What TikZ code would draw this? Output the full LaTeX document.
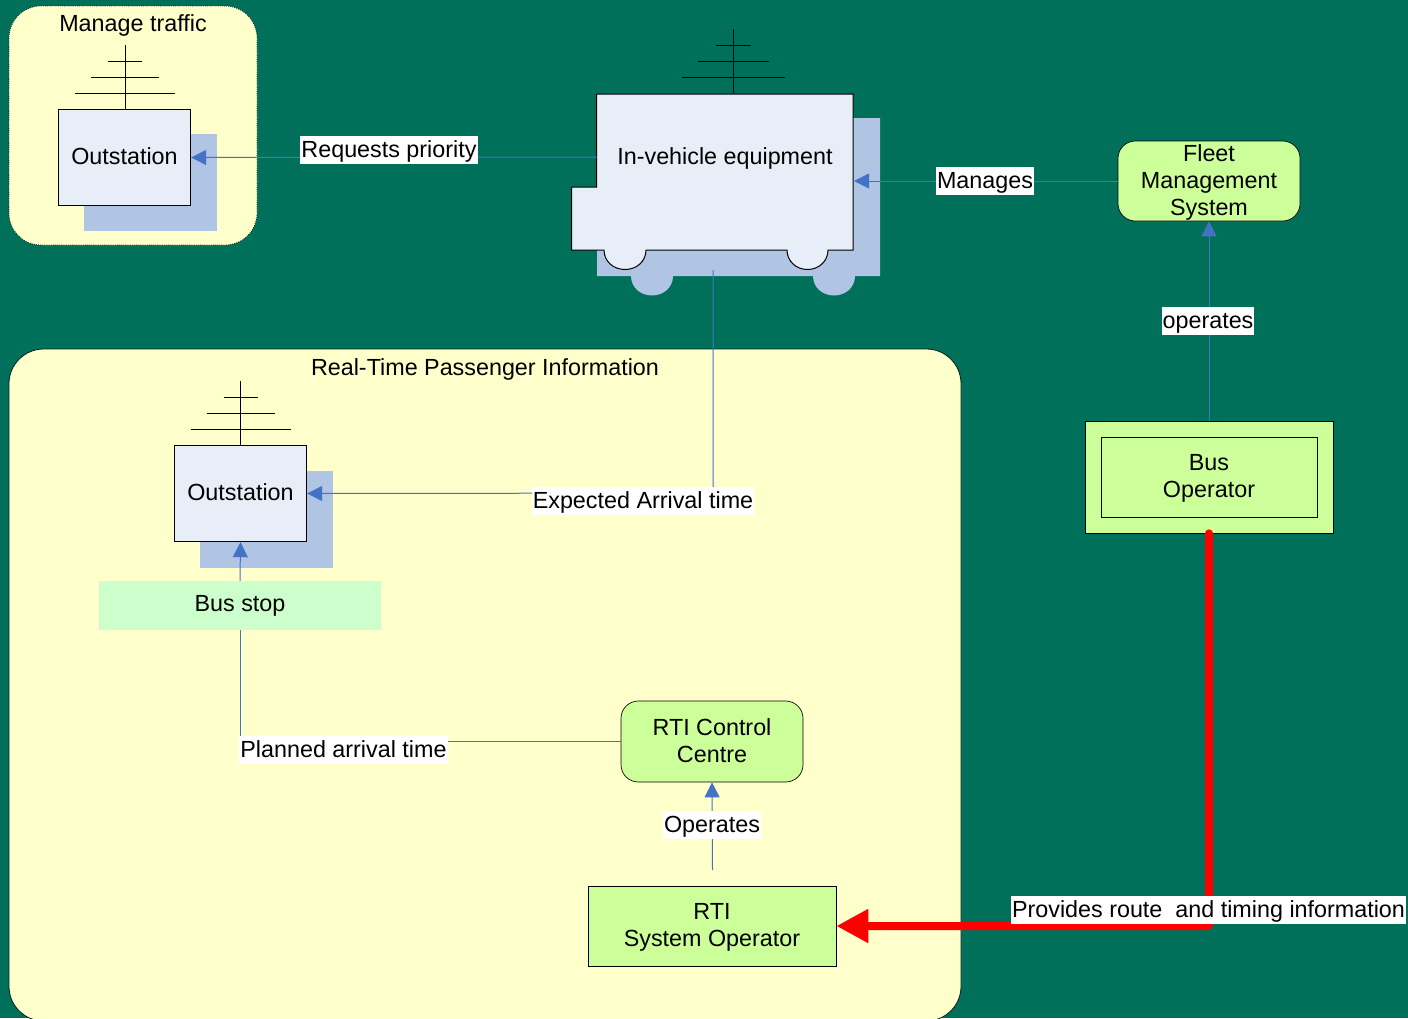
\documentclass[tikz,border=0pt]{standalone}
\usepackage{fontspec}
\setmainfont{Liberation Sans}
\usetikzlibrary{arrows.meta}

\definecolor{teal}{HTML}{00705A}
\definecolor{panelyellow}{HTML}{FFFFCC}
\definecolor{lime}{HTML}{CCFF99}
\definecolor{stopgreen}{HTML}{CCFFCC}
\definecolor{paleblue}{HTML}{E8EEF8}
\definecolor{shadowblue}{HTML}{B0C4E4}
\definecolor{linkblue}{HTML}{4472C4}

\newcommand{\antenna}[3]{%
    \draw[mast] (#1, #2) -- (#1, #2+64);
    \draw[mast] (#1-17*#3, #2+16) -- (#1+17*#3, #2+16);
    \draw[mast] (#1-34*#3, #2+32) -- (#1+34*#3, #2+32);
    \draw[mast] (#1-50*#3, #2+48) -- (#1+50*#3, #2+48);
}

\tikzset{
    txt/.style={font=\fontsize{17.5}{20.25}\selectfont, align=center, text=black, inner sep=0pt},
    panel/.style={draw=black!70!teal, line width=0.6pt, fill=panelyellow, inner sep=0pt},
    outstation/.style={txt, draw=black, line width=0.75pt, fill=paleblue, minimum width=99.25pt, minimum height=72.25pt, text depth=1.5pt},
    shadowbox/.style={fill=shadowblue, inner sep=0pt, minimum width=99.75pt, minimum height=72.75pt},
    limebox/.style={txt, draw=black, line width=0.5pt, fill=lime, text depth=1.5pt},
    mast/.style={draw=black, line width=0.75pt},
    link/.style={draw=linkblue, line width=0.75pt, -{Triangle[length=11.25pt, width=11.25pt]}},
    plain link/.style={draw=linkblue, line width=0.75pt},
    feed/.style={draw=red, line width=6pt, line cap=round, rounded corners=1.5pt, -{Triangle[length=24pt, width=24pt]}},
    tag/.style={txt, fill=white, inner xsep=0.75pt, inner ysep=2pt, text height=14pt, text depth=3pt},
}

\begin{document}
\begin{tikzpicture}[x=0.75pt, y=-0.75pt]
    \clip (0, 0) rectangle (1408, 1018);
    \fill[teal] (0, 0) rectangle (1408, 1018);

    % panels
    \node[panel, densely dotted, rounded corners=24pt, minimum width=186pt, minimum height=179.25pt] (traffic) at (133, 125.5) {};
    \node[panel, rounded corners=26pt, minimum width=714pt, minimum height=504pt] (rtpi) at (485, 685) {};
    \node[txt] (traffictitle) at (133, 25) {Manage traffic};
    \node[txt] (rtpititle) at (485, 369) {Real-Time Passenger Information};

    % nodes: outstations
    \node[shadowbox] (trafficshadow) at (150.5, 182.5) {};
    \node[outstation] (trafficout) at (124.5, 157.5) {Outstation};
    \node[shadowbox] (stopshadow) at (266.5, 519.5) {};
    \node[outstation] (stopout) at (240.5, 493.5) {Outstation};
    \node[txt, fill=stopgreen, minimum width=211.5pt, minimum height=36.75pt, text depth=2.5pt] (busstop) at (240, 605.5) {Bus stop};

    % vehicle
    \fill[shadowblue] (597,118) -- (880,118) -- (880,276) -- (855,276)
        .. controls (855,287) and (846,295.5) .. (834,295.5)
        .. controls (822,295.5) and (813,287) .. (813,276) -- (673,276)
        .. controls (673,287) and (664,295.5) .. (652,295.5)
        .. controls (640,295.5) and (631,287) .. (631,276) -- (597,276) -- cycle;
    \draw[fill=paleblue, line width=0.75pt] (596.5,94) -- (853,94) -- (853,250) -- (828,250)
        .. controls (828,261) and (819,269.5) .. (807.5,269.5)
        .. controls (796,269.5) and (787,261) .. (787,250) -- (646,250)
        .. controls (646,261) and (637,269.5) .. (625,269.5)
        .. controls (613,269.5) and (604,261) .. (604,250) -- (571.5,250)
        -- (571.5,187) -- (596.5,187) -- cycle;
    \node[txt] (vehicle) at (725, 158.5) {In-vehicle equipment};
    \coordinate (vehiclewest) at (597, 157);
    \coordinate (vehicleeast) at (854, 181);
    \coordinate (vehiclesouth) at (713, 270);

    % antennas
    \antenna{125}{45}{1}
    \antenna{240.5}{381}{1}
    \antenna{733.5}{29}{1.03}

    % nodes: fleet side
    \node[limebox, rounded corners=13pt, minimum width=136.5pt, minimum height=60pt] (fleet) at (1209, 181) {Fleet\\Management\\System};
    \node[limebox, minimum width=186pt, minimum height=84pt] (busop) at (1209, 477) {};
    \node[limebox, minimum width=162pt, minimum height=60pt] (businner) at (1209, 477) {Bus\\Operator};

    % nodes: rti
    \node[limebox, rounded corners=13pt, minimum width=136.5pt, minimum height=60.75pt] (rticontrol) at (712, 741.5) {RTI Control\\Centre};
    \node[limebox, minimum width=186pt, minimum height=60pt] (rtisystem) at (712, 926) {RTI\\System Operator};
    \coordinate (rtistub) at (712.5, 870);
    \coordinate (bend) at (713, 493);

    % edges
    \draw[link] (vehiclewest) -- (trafficout.east);
    \draw[link] (fleet.west) -- (vehicleeast);
    \draw[link] (busop.north) -- (fleet.south);
    \draw[link] (vehiclesouth) -- (bend) -- (stopout.east);
    \draw[plain link] (rticontrol.west) -| (busstop.south);
    \draw[link] (busstop.north) -- (stopout.south);
    \draw[link] (rtistub) -- (rticontrol.south);
    \draw[feed] (busop.south) |- (rtisystem.east);

    % edge labels
    \node[tag] (requests) at (389, 150) {Requests priority};
    \node[tag] (manages) at (985, 181) {Manages};
    \node[tag] (operatesfleet) at (1208, 321) {operates};
    \node[tag] (expected) at (643, 501) {Expected Arrival time};
    \node[tag] (planned) at (343.5, 750) {Planned arrival time};
    \node[tag] (operatesrti) at (712, 825) {Operates};
    \node[tag] (provides) at (1208.5, 910) {Provides route\ \ and timing information};
\end{tikzpicture}
\end{document}
